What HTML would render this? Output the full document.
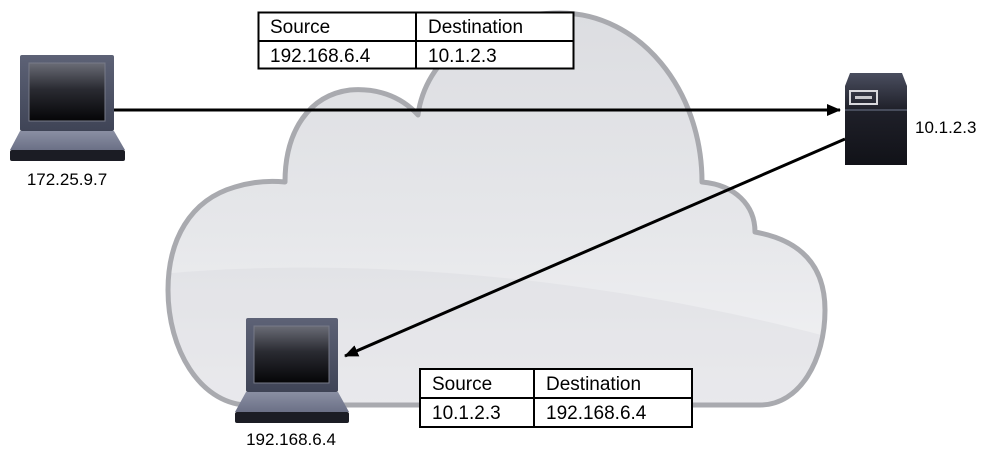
<!DOCTYPE html>
<html><head><meta charset="utf-8"><style>
html,body{margin:0;padding:0;background:#fff;}
svg{display:block;font-family:"Liberation Sans",Arial,sans-serif;}
</style></head><body>
<svg width="994" height="454" viewBox="0 0 994 454" xmlns="http://www.w3.org/2000/svg">
<defs>
<linearGradient id="cl" x1="0" y1="0" x2="0" y2="1">
<stop offset="0" stop-color="#dcdde1"/><stop offset="0.55" stop-color="#e6e7ea"/><stop offset="1" stop-color="#f3f3f5"/>
</linearGradient>
<linearGradient id="scr" x1="0" y1="0" x2="0" y2="1">
<stop offset="0" stop-color="#6a6c76"/><stop offset="0.45" stop-color="#2a2b32"/><stop offset="1" stop-color="#050507"/>
</linearGradient>
<linearGradient id="lid" x1="0" y1="0" x2="0" y2="1">
<stop offset="0" stop-color="#5d6276"/><stop offset="1" stop-color="#3f4456"/>
</linearGradient>
<linearGradient id="base" x1="0" y1="0" x2="0" y2="1">
<stop offset="0" stop-color="#8a8fa3"/><stop offset="1" stop-color="#6b7086"/>
</linearGradient>
<linearGradient id="srv" x1="0" y1="0" x2="0" y2="1">
<stop offset="0" stop-color="#4a4e5f"/><stop offset="0.4" stop-color="#1f2029"/><stop offset="1" stop-color="#111218"/>
</linearGradient>
<marker id="ah2" markerWidth="14" markerHeight="12" refX="13" refY="6" orient="auto" markerUnits="userSpaceOnUse">
<path d="M0,0 L14,6 L0,12 Z" fill="#000"/>
</marker>
<clipPath id="cc"><path id="cp" d="M235,187 C190,200 168,240 168,290 C168,350 200,402 245,405 L760,405 C800,405 825,360 825,310 C825,265 800,240 755,232 C755,205 735,185 702,182 C702,90 640,13 560,13 C480,13 425,60 418,115 C400,95 375,88 350,90 C310,95 285,130 285,182 C265,180 248,183 235,187 Z"/></clipPath>
</defs>

<!-- cloud -->
<path d="M235,187 C190,200 168,240 168,290 C168,350 200,402 245,405 L760,405 C800,405 825,360 825,310 C825,265 800,240 755,232 C755,205 735,185 702,182 C702,90 640,13 560,13 C480,13 425,60 418,115 C400,95 375,88 350,90 C310,95 285,130 285,182 C265,180 248,183 235,187 Z" fill="url(#cl)"/>
<path d="M150,275 C350,255 600,275 840,340 L840,420 L150,420 Z" fill="#d6d7dc" fill-opacity="0.35" clip-path="url(#cc)"/>
<path d="M235,187 C190,200 168,240 168,290 C168,350 200,402 245,405 L760,405 C800,405 825,360 825,310 C825,265 800,240 755,232 C755,205 735,185 702,182 C702,90 640,13 560,13 C480,13 425,60 418,115 C400,95 375,88 350,90 C310,95 285,130 285,182 C265,180 248,183 235,187 Z" fill="none" stroke="#a9aaaf" stroke-width="5" stroke-linejoin="round"/>

<!-- table 1 -->
<g font-size="19" fill="#000">
<rect x="258.5" y="12.5" width="315" height="56" fill="#fff" stroke="#000" stroke-width="2"/>
<line x1="258" y1="41" x2="574" y2="41" stroke="#000" stroke-width="2"/>
<line x1="416" y1="12" x2="416" y2="69" stroke="#000" stroke-width="2"/>
<text x="270" y="33">Source</text><text x="428" y="33">Destination</text>
<text x="270" y="62">192.168.6.4</text><text x="428" y="62">10.1.2.3</text>
</g>

<!-- table 2 -->
<g font-size="19" fill="#000">
<rect x="420" y="369" width="272" height="58" fill="#fff" stroke="#000" stroke-width="2"/>
<line x1="420" y1="398" x2="692" y2="398" stroke="#000" stroke-width="2"/>
<line x1="534" y1="369" x2="534" y2="427" stroke="#000" stroke-width="2"/>
<text x="432" y="390">Source</text><text x="546" y="390">Destination</text>
<text x="432" y="419">10.1.2.3</text><text x="546" y="419">192.168.6.4</text>
</g>

<!-- arrows -->
<line x1="113" y1="110" x2="840" y2="110" stroke="#000" stroke-width="3" marker-end="url(#ah2)"/>
<line x1="845" y1="139" x2="345" y2="356" stroke="#000" stroke-width="3" marker-end="url(#ah2)"/>

<!-- laptop 1 -->
<g>
<rect x="20" y="55" width="94" height="76" rx="2" fill="url(#lid)"/>
<rect x="29" y="63" width="76" height="58" fill="url(#scr)" stroke="#777a88" stroke-width="1"/>
<path d="M20,131 L114,131 L125,150 L10,150 Z" fill="url(#base)"/>
<rect x="10" y="150" width="115" height="11" rx="2" fill="#1b1c24"/>
<text x="67" y="185" font-size="17" text-anchor="middle">172.25.9.7</text>
</g>

<!-- laptop 2 -->
<g>
<rect x="246" y="318" width="92" height="74" rx="2" fill="url(#lid)"/>
<rect x="254" y="326" width="75" height="57" fill="url(#scr)" stroke="#777a88" stroke-width="1"/>
<path d="M246,392 L338,392 L349,412 L235,412 Z" fill="url(#base)"/>
<rect x="235" y="412" width="114" height="11" rx="2" fill="#1b1c24"/>
<text x="291" y="445" font-size="17" text-anchor="middle">192.168.6.4</text>
</g>

<!-- server -->
<g>
<path d="M850,73 L902,73 L907,86 L907,165 L845,165 L845,86 Z" fill="url(#srv)"/>
<line x1="845" y1="110" x2="907" y2="110" stroke="#555a6c" stroke-width="1.5"/>
<rect x="850" y="91" width="27" height="13" fill="none" stroke="#d8d8dc" stroke-width="2"/>
<rect x="855" y="96" width="17" height="3" fill="#c8c8cc"/>
<text x="915" y="133" font-size="17">10.1.2.3</text>
</g>
</svg>
</body></html>
